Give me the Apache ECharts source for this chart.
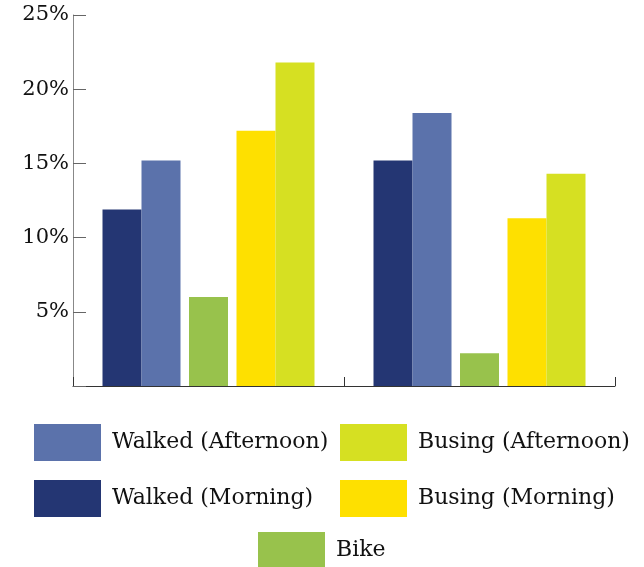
<!DOCTYPE html>
<html>
<head>
<meta charset="utf-8">
<script src="https://cdn.jsdelivr.net/npm/echarts@6/dist/echarts.min.js"></script>
<style>
html, body { margin: 0; padding: 0; background: #fff; }
#chart { width: 644px; height: 567px; }
</style>
</head>
<body>
<div id="chart"></div>
<script>
// Two groups of commuting-mode shares (percent)
const groups = ['Group A', 'Group B'];
const walkedMorning = [11.9, 15.2];
const walkedAfternoon = [15.2, 18.4];
const bike = [6.0, 2.2];
const busingMorning = [17.2, 11.3];
const busingAfternoon = [21.8, 14.3];
const yTicks = [0, 5, 10, 15, 20, 25];

const FONT = 'DejaVu Serif';

const chart = echarts.init(document.getElementById('chart'), null, { renderer: 'canvas' });

function barSeries(name, data, color) {
  return {
    name: name,
    type: 'bar',
    data: data,
    barWidth: 39,
    barGap: '0%',
    itemStyle: { color: color },
    emphasis: { disabled: true }
  };
}

// empty narrow series used as spacing between bar pairs
function spacer(id) {
  return {
    id: id,
    name: id,
    type: 'bar',
    data: ['-', '-'],
    barWidth: 8.5,
    barGap: '0%',
    silent: true
  };
}

const legendText = { fontFamily: FONT, fontSize: 22, color: '#111', padding: [0, 0, 0, 6] };

const legendBase = {
  orient: 'vertical', padding: 0, itemWidth: 67, itemHeight: 37, itemGap: 19,
  icon: 'rect', selectedMode: false, textStyle: legendText
};

chart.setOption({
  animation: false,
  grid: { left: 73, right: 29, top: 15, bottom: 181, containLabel: false },
  xAxis: {
    type: 'category',
    data: groups,
    axisLine: { lineStyle: { color: '#333', width: 1 } },
    axisTick: { show: true, inside: true, length: 9, lineStyle: { color: '#333' } },
    axisLabel: { show: false }
  },
  yAxis: {
    type: 'value',
    min: yTicks[0],
    max: yTicks[yTicks.length - 1],
    interval: 5,
    splitLine: { show: false },
    axisLine: { show: true, lineStyle: { color: '#888' } },
    axisTick: { show: true, inside: true, length: 13, lineStyle: { color: '#666' } },
    axisLabel: {
      margin: 4,
      fontFamily: FONT,
      fontSize: 21,
      color: '#111',
      formatter: function (v) { return v === 0 ? '' : v + '%'; }
    }
  },
  legend: [
    Object.assign({}, legendBase, { left: 34, top: 424, data: ['Walked (Afternoon)', 'Walked (Morning)'] }),
    Object.assign({}, legendBase, { left: 340, top: 424, data: ['Busing (Afternoon)', 'Busing (Morning)'] }),
    Object.assign({}, legendBase, { left: 258, top: 532, data: ['Bike'] })
  ],
  series: [
    barSeries('Walked (Morning)', walkedMorning, '#243673'),
    barSeries('Walked (Afternoon)', walkedAfternoon, '#5B72AB'),
    spacer('gap1'),
    barSeries('Bike', bike, '#98C24C'),
    spacer('gap2'),
    barSeries('Busing (Morning)', busingMorning, '#FEE000'),
    barSeries('Busing (Afternoon)', busingAfternoon, '#D6E022')
  ]
});
</script>
</body>
</html>
